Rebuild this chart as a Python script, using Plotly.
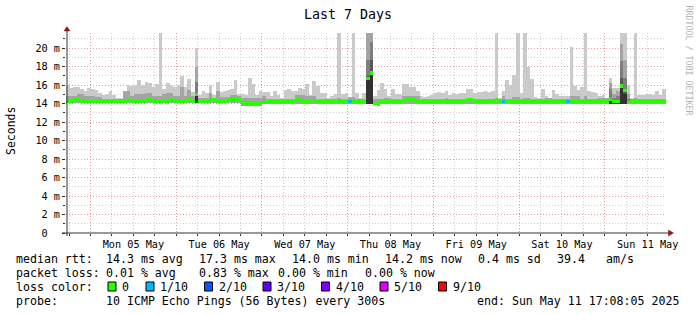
import plotly.graph_objects as go
import pandas as pd

# ---------------- data (hourly bins, 7 days) ----------------
end_label = "2025-05-11 17:08:05"
n_bins = 168

rtt_max = [
    16.0, 15.7, 15.75, 15.75, 15.6, 15.3, 15.7, 15.6, 15.5, 15.1,
    14.95, 15.0, 15.3, 14.95, 14.55, 14.55, 15.1, 16.0, 15.85, 15.95,
    16.55, 15.95, 16.3, 16.2, 15.75, 16.1, 21.6, 15.55, 16.2, 16.05,
    15.75, 15.95, 16.95, 15.75, 16.65, 15.2, 20.0, 14.95, 15.3, 15.15,
    15.95, 14.95, 16.3, 15.25, 15.3, 15.5, 15.6, 16.55, 15.05, 15.05,
    14.95, 16.75, 16.1, 14.95, 15.3, 15.25, 15.25, 14.8, 15.3, 14.95,
    14.55, 15.5, 15.55, 15.3, 15.4, 15.7, 15.6, 16.1, 14.95, 16.45,
    15.9, 15.15, 15.15, 14.55, 14.8, 15.05, 21.6, 15.05, 15.15, 14.6,
    21.6, 15.15, 14.55, 15.15, 21.6, 21.6, 14.8, 15.5, 16.2, 15.6,
    14.8, 15.55, 15.05, 15.05, 16.1, 16.1, 15.8, 15.75, 15.4, 14.8,
    14.7, 14.8, 14.95, 15.15, 15.25, 15.15, 15.4, 14.95, 15.15, 15.05,
    15.15, 15.15, 15.55, 15.55, 15.15, 15.2, 15.25, 15.3, 15.25, 15.3,
    21.6, 14.6, 15.3, 16.55, 15.95, 17.05, 21.6, 15.15, 21.6, 17.9,
    16.6, 14.65, 14.55, 15.55, 14.8, 14.6, 15.45, 15.05, 14.8, 14.8,
    14.8, 20.1, 15.9, 15.5, 15.75, 21.6, 15.4, 15.25, 15.15, 14.8,
    14.95, 14.55, 16.75, 15.7, 15.7, 21.6, 21.6, 16.0, 14.6, 21.6,
    14.95, 14.95, 15.05, 15.05, 14.95, 15.3, 14.95, 15.6,
]

rtt_p9 = [
    14.8, 14.8, 14.8, 15.0, 15.0, 14.8, 14.8, 14.8, 14.7, 14.7,
    14.5, 14.5, 14.5, 14.5, 14.5, 14.5, 15.4, 15.4, 14.8, 15.0,
    15.0, 15.0, 15.15, 15.15, 14.8, 14.8, 14.8, 15.0, 15.1, 15.1,
    14.8, 14.8, 15.8, 14.8, 15.5, 14.8, 18.0, 14.6, 14.6, 14.6,
    15.1, 14.6, 15.3, 14.7, 14.7, 14.7, 14.95, 14.95, 14.8, 14.6,
    14.6, 14.6, 14.6, 14.6, 14.6, 14.8, 14.5, 14.5, 14.5, 14.5,
    14.5, 14.5, 14.5, 14.5, 14.95, 14.95, 14.95, 14.85, 14.85, 14.85,
    14.5, 14.5, 14.5, 14.5, 14.5, 14.5, 14.55, 14.5, 14.5, 14.65,
    14.65, 14.5, 14.5, 14.5, 21.6, 21.6, 14.5, 14.5, 14.5, 14.6,
    14.6, 14.5, 14.5, 14.5, 14.8, 14.8, 14.8, 14.8, 14.8, 14.5,
    14.5, 14.5, 14.5, 14.5, 14.5, 14.5, 14.6, 14.5, 14.5, 14.5,
    14.5, 14.5, 14.6, 14.6, 14.5, 14.5, 14.5, 14.5, 14.5, 14.5,
    14.6, 14.5, 14.8, 14.5, 14.5, 14.65, 14.65, 14.5, 14.6, 14.6,
    14.5, 14.5, 14.5, 14.5, 14.6, 14.6, 14.5, 14.5, 14.5, 14.5,
    14.5, 14.8, 14.8, 14.8, 14.5, 14.8, 14.5, 14.5, 14.5, 14.6,
    14.6, 14.6, 16.2, 15.0, 15.3, 20.4, 18.7, 15.0, 14.5, 14.6,
    14.5, 14.5, 14.5, 14.5, 14.5, 14.5, 14.5, 14.5,
]

rtt_median = [
    14.25, 14.25, 14.4, 14.4, 14.25, 14.25, 14.25, 14.25, 14.25, 14.25,
    14.25, 14.25, 14.25, 14.25, 14.25, 14.25, 14.25, 14.4, 14.25, 14.25,
    14.25, 14.25, 14.4, 14.4, 14.25, 14.25, 14.25, 14.25, 14.25, 14.4,
    14.25, 14.25, 14.25, 14.25, 14.4, 14.25, 15.0, 14.25, 14.25, 14.25,
    14.4, 14.4, 14.25, 14.25, 14.25, 14.4, 14.4, 14.4, 14.4, 13.95,
    13.95, 13.95, 13.95, 13.95, 13.95, 14.1, 14.2, 14.2, 14.2, 14.2,
    14.2, 14.2, 14.2, 14.2, 14.4, 14.4, 14.2, 14.2, 14.2, 14.35,
    14.2, 14.2, 14.2, 14.2, 14.2, 14.2, 14.2, 14.2, 14.2, 14.2,
    14.2, 14.2, 14.2, 14.2, 16.7, 17.3, 14.05, 13.95, 14.2, 14.2,
    14.2, 14.2, 14.2, 14.2, 14.2, 14.4, 14.4, 14.4, 14.2, 14.2,
    14.2, 14.2, 14.2, 14.2, 14.2, 14.2, 14.2, 14.2, 14.2, 14.2,
    14.2, 14.2, 14.4, 14.4, 14.2, 14.2, 14.2, 14.2, 14.2, 14.2,
    14.4, 14.2, 14.2, 14.2, 14.2, 14.2, 14.2, 14.2, 14.2, 14.2,
    14.2, 14.2, 14.2, 14.2, 14.2, 14.2, 14.2, 14.2, 14.2, 14.2,
    14.2, 14.2, 14.2, 14.2, 14.2, 14.2, 14.2, 14.2, 14.2, 14.2,
    14.2, 14.2, 14.4, 14.2, 14.2, 15.9, 15.45, 14.1, 14.2, 14.2,
    14.2, 14.2, 14.2, 14.2, 14.2, 14.2, 14.2, 14.2,
]

rtt_min = [
    14.05, 14.05, 14.05, 14.05, 14.05, 14.05, 14.05, 14.05, 14.05, 14.05,
    14.05, 14.05, 14.05, 14.05, 14.05, 14.05, 14.05, 14.05, 14.05, 14.05,
    14.05, 14.05, 14.05, 14.05, 14.05, 14.05, 14.05, 14.05, 14.05, 14.05,
    14.05, 14.05, 14.05, 14.05, 14.05, 14.05, 14.05, 14.05, 14.05, 14.05,
    14.05, 14.05, 14.05, 14.05, 14.05, 14.05, 14.05, 14.05, 14.05, 13.75,
    13.75, 13.75, 13.75, 13.75, 13.75, 13.9, 14.0, 14.0, 14.0, 14.0,
    14.0, 14.0, 14.0, 14.0, 14.0, 14.0, 14.0, 14.0, 14.0, 14.0,
    14.0, 14.0, 14.0, 14.0, 14.0, 14.0, 14.0, 14.0, 14.0, 14.0,
    14.0, 14.0, 14.0, 14.0, 14.0, 14.0, 13.85, 13.8, 14.0, 14.0,
    14.0, 14.0, 14.0, 14.0, 14.0, 14.0, 14.0, 14.0, 14.0, 14.0,
    14.0, 14.0, 14.0, 14.0, 14.0, 14.0, 14.0, 14.0, 14.0, 14.0,
    14.0, 14.0, 14.0, 14.0, 14.0, 14.0, 14.0, 14.0, 14.0, 14.0,
    14.0, 14.0, 14.0, 14.0, 14.0, 14.0, 14.0, 14.0, 14.0, 14.0,
    14.0, 14.0, 14.0, 14.0, 14.0, 14.0, 14.0, 14.0, 14.0, 14.0,
    14.0, 14.0, 14.0, 14.0, 14.0, 14.0, 14.0, 14.0, 14.0, 14.0,
    14.0, 14.0, 14.0, 14.0, 14.0, 14.0, 14.0, 14.0, 14.0, 14.0,
    14.0, 14.0, 14.0, 14.0, 14.0, 14.0, 14.0, 14.0,
]

# inner smoke layers only where the pings spread a lot
event_bins = [36, 84, 85, 152, 153, 154, 155, 156, 157]
event_p8 = [16.3, 18.7, 20.7, 15.6, 14.6, 14.8, 18.6, 16.8, 14.5]
event_p7 = [15.1, 17.0, 18.7, 14.6, 14.35, 14.35, 16.8, 15.4, 14.3]
event_p6 = [15.0, 16.6, 17.3, 14.45, 14.25, 14.25, 15.9, 15.0, 14.25]

# bins with packet loss (tenths)
loss_bins = [79, 122, 140]
loss_values = [1, 1, 1]

loss_levels = ["0", "1/10", "2/10", "3/10", "4/10", "5/10", "9/10"]
loss_colors = ["#26ff00", "#00b8ff", "#0059ff", "#5e00ff", "#7e00ff", "#dd00ff", "#ff0000"]
loss_index = {0: 0, 1: 1, 2: 2, 3: 3, 4: 4, 5: 5, 9: 6}

y_tickvals = [0, 2, 4, 6, 8, 10, 12, 14, 16, 18, 20]
y_ticktext = ["0\u00a0\u00a0", "2 m", "4 m", "6 m", "8 m", "10 m", "12 m",
              "14 m", "16 m", "18 m", "20 m"]

stats_rtt = ["14.3 ms avg", "17.3 ms max", "14.0 ms min", "14.2 ms now",
             "0.4 ms sd", "39.4", "am/s"]
stats_loss = ["0.01 % avg", "0.83 % max", "0.00 % min", "0.00 % now"]
probe_text = "10 ICMP Echo Pings (56 Bytes) every 300s"
end_text = "end: Sun May 11 17:08:05 2025"

# ---------------- geometry helpers ----------------
L, R, T, B = 66, 31, 33, 82
W, H = 697, 315
PW, PH = W - L - R, H - T - B


def px(x):
    return (x - L) / PW


def py(y):
    return (T + PH - y) / PH


end_time = pd.Timestamp(end_label)
start_time = end_time - pd.Timedelta(days=7)
centers = [start_time + pd.Timedelta(minutes=30) + pd.Timedelta(hours=i) for i in range(n_bins)]
BIN_MS = 3600 * 1000
FONT = "DejaVu Sans Mono"

fig = go.Figure()


def add_layer(xs, lows, highs, color):
    fig.add_trace(go.Bar(
        x=xs, base=lows, y=[h - l for h, l in zip(highs, lows)],
        width=BIN_MS, marker=dict(color=color, line=dict(width=0)),
        showlegend=False, hoverinfo="skip"))


add_layer(centers, rtt_min, rtt_max, "#cacaca")
add_layer(centers, rtt_min, rtt_p9, "#a4a4a4")
ev_x = [centers[i] for i in event_bins]
ev_min = [rtt_min[i] for i in event_bins]
add_layer(ev_x, ev_min, event_p8, "#7e7e7e")
add_layer(ev_x, ev_min, event_p7, "#585858")
add_layer(ev_x, ev_min, event_p6, "#323232")

# median dashes coloured by loss
loss_map = dict(zip(loss_bins, loss_values))
half = 0.17
med_colors = [loss_colors[loss_index[loss_map.get(i, 0)]] for i in range(n_bins)]
fig.add_trace(go.Bar(
    x=centers, base=[m - half for m in rtt_median], y=[2 * half] * n_bins,
    width=BIN_MS, marker=dict(color=med_colors, line=dict(width=0)),
    showlegend=False, hoverinfo="skip"))

MAJ = "#e49c9c"
MIN = "#cfcfcf"
AX = "#333333"

fig.update_layout(
    width=W, height=H, margin=dict(l=L, r=R, t=T, b=B),
    paper_bgcolor="white", plot_bgcolor="white",
    barmode="overlay", bargap=0,
    showlegend=False,
    font=dict(family=FONT, color="black"),
    xaxis=dict(
        type="date", range=[start_time, end_time],
        tick0="2025-05-04", dtick=86400000, tickformat="%a %d %b",
        ticklabelmode="period",
        showgrid=True, gridcolor=MAJ, griddash="1px,2px", gridwidth=1,
        ticks="outside", ticklen=2, tickcolor=AX,
        tickfont=dict(family=FONT, size=10.2, color="black"),
        showline=False, zeroline=False, fixedrange=True,
        minor=dict(dtick=6 * 3600000, tick0="2025-05-04", showgrid=True,
                   gridcolor=MIN, griddash="1px,2px", ticks="outside",
                   ticklen=2, tickcolor=AX),
    ),
    yaxis=dict(
        range=[0, PH / 9.25], tickvals=y_tickvals, ticktext=y_ticktext,
        showgrid=True, gridcolor=MAJ, griddash="1px,2px", gridwidth=1,
        ticks="outside", ticklen=3, tickcolor=AX,
        tickfont=dict(family=FONT, size=10.2, color="black"),
        showline=False, zeroline=False, fixedrange=True,
        minor=dict(dtick=1, showgrid=True, gridcolor=MIN, griddash="1px,2px",
                   ticks="outside", ticklen=2, tickcolor=AX),
    ),
)

shapes = []
# axes with arrows
shapes.append(dict(type="line", xref="paper", yref="paper",
                   x0=px(67), x1=px(67), y0=py(236), y1=py(30),
                   line=dict(color=AX, width=1)))
shapes.append(dict(type="line", xref="paper", yref="paper",
                   x0=px(62), x1=px(669), y0=py(233), y1=py(233),
                   line=dict(color=AX, width=1)))
shapes.append(dict(type="path", xref="paper", yref="paper",
                   path=f"M {px(67)},{py(26.5)} L {px(64)},{py(31)} L {px(70)},{py(31)} Z",
                   fillcolor="#8b1a1a", line=dict(color="#8b1a1a", width=0.5)))
shapes.append(dict(type="path", xref="paper", yref="paper",
                   path=f"M {px(673.5)},{py(233)} L {px(668.5)},{py(230)} L {px(668.5)},{py(236)} Z",
                   fillcolor="#8b1a1a", line=dict(color="#8b1a1a", width=0.5)))

annotations = []


def text(x, y, s, size=11.6, anchor="left", color="black", angle=0):
    annotations.append(dict(
        xref="paper", yref="paper", x=px(x), y=py(y), text=s,
        showarrow=False, xanchor=anchor, yanchor="middle",
        font=dict(family=FONT, size=size, color=color),
        borderpad=0, borderwidth=0, textangle=angle))


text(348, 14, "Last 7 Days", size=13.3, anchor="center")
text(11, 131, "Seconds", size=11.5, anchor="center", angle=-90)
text(688.5, 60, "RRDTOOL / TOBI OETIKER", size=8.3, anchor="center",
     color="#b4b4b4", angle=90)

row_y = [259, 273, 287, 301]
text(16, row_y[0], "median rtt:")
for s, x in zip(stats_rtt, [106, 199, 292, 385, 478, 557, 606]):
    text(x, row_y[0], s)
text(16, row_y[1], "packet loss:")
for s, x in zip(stats_loss, [106, 199, 278, 365]):
    text(x, row_y[1], s)
text(16, row_y[2], "loss color:")
box_x = [108, 146, 204.5, 263, 321.5, 380, 438.5]
for bx, lab, col in zip(box_x, loss_levels, loss_colors):
    shapes.append(dict(type="rect", xref="paper", yref="paper",
                       x0=px(bx), x1=px(bx + 8), y0=py(291), y1=py(282),
                       fillcolor=col, line=dict(color="black", width=1)))
    text(bx + 14, row_y[2], lab)
text(16, row_y[3], "probe:")
text(106, row_y[3], probe_text)
text(477, row_y[3], end_text)

fig.update_layout(shapes=shapes, annotations=annotations)
fig.write_html("out.html")
